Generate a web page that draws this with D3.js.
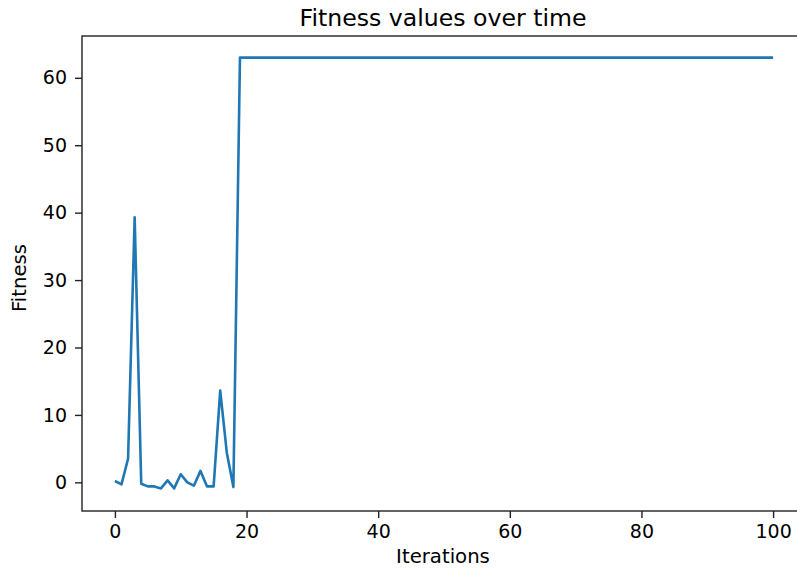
<!DOCTYPE html>
<html>
<head>
<meta charset="utf-8">
<script src="https://cdn.jsdelivr.net/npm/d3@7"></script>
<style>
  body { margin: 0; background: #fff; }
  text { font-family: "DejaVu Sans", sans-serif; fill: #000; }
</style>
</head>
<body>
<svg id="chart" width="797" height="569"></svg>
<script>
// fitness per iteration (0..18), then flat at 63 from 19 to 100
const earlyFitness = [0.2, -0.3, 3.5, 39.3, -0.2, -0.6, -0.6, -0.9, 0.3, -0.9,
                      1.2, 0.0, -0.5, 1.7, -0.6, -0.6, 13.6, 4.4, -0.7];
const plateauStart = 19;
const plateauEnd = 100;
const plateauValue = 63;
const xTicks = [0, 20, 40, 60, 80, 100];
const yTicks = [0, 10, 20, 30, 40, 50, 60];

let data = earlyFitness.map((v, i) => ({x: i, y: v}));
for (let i = plateauStart; i <= plateauEnd; i++) data.push({x: i, y: plateauValue});

let svg = d3.select('#chart');
let margin = {left: 82, top: 36, right: 806, bottom: 511};

let x = d3.scaleLinear().domain([-5, 105]).range([margin.left, margin.right]);
let y = d3.scaleLinear().domain([-4.25, 66.2]).range([margin.bottom, margin.top]);

// line
svg.append('path')
  .datum(data)
  .attr('fill', 'none')
  .attr('stroke', '#1f77b4')
  .attr('stroke-width', 2.6)
  .attr('stroke-linejoin', 'round')
  .attr('stroke-linecap', 'butt')
  .attr('d', d3.line().x(d => x(d.x)).y(d => y(d.y)));

// axes
let xAxis = svg.append('g')
  .attr('transform', `translate(0,${margin.bottom})`)
  .call(d3.axisBottom(x).tickValues(xTicks).tickSize(7).tickPadding(7).tickFormat(d3.format('d')));
let yAxis = svg.append('g')
  .attr('transform', `translate(${margin.left},0)`)
  .call(d3.axisLeft(y).tickValues(yTicks).tickSize(7).tickPadding(8).tickFormat(d3.format('d')));

[xAxis, yAxis].forEach(g => {
  g.select('.domain').remove();
  g.selectAll('.tick line').attr('stroke', '#222').attr('stroke-width', 1.4);
  g.selectAll('.tick text').attr('font-size', 19).attr('font-family', '"DejaVu Sans", sans-serif').attr('fill', '#222');
});

// spines (box)
svg.append('rect')
  .attr('x', margin.left).attr('y', margin.top)
  .attr('width', margin.right - margin.left).attr('height', margin.bottom - margin.top)
  .attr('fill', 'none').attr('stroke', '#222').attr('stroke-width', 1.4);

// title and labels
svg.append('text')
  .attr('x', 443).attr('y', 26)
  .attr('text-anchor', 'middle')
  .attr('font-size', 23.6)
  .attr('fill', '#222')
  .text('Fitness values over time');

svg.append('text')
  .attr('x', 443).attr('y', 563)
  .attr('text-anchor', 'middle')
  .attr('font-size', 19.7)
  .attr('fill', '#222')
  .text('Iterations');

svg.append('text')
  .attr('transform', `translate(26,278) rotate(-90)`)
  .attr('text-anchor', 'middle')
  .attr('font-size', 19.7)
  .attr('fill', '#222')
  .text('Fitness');
</script>
</body>
</html>
